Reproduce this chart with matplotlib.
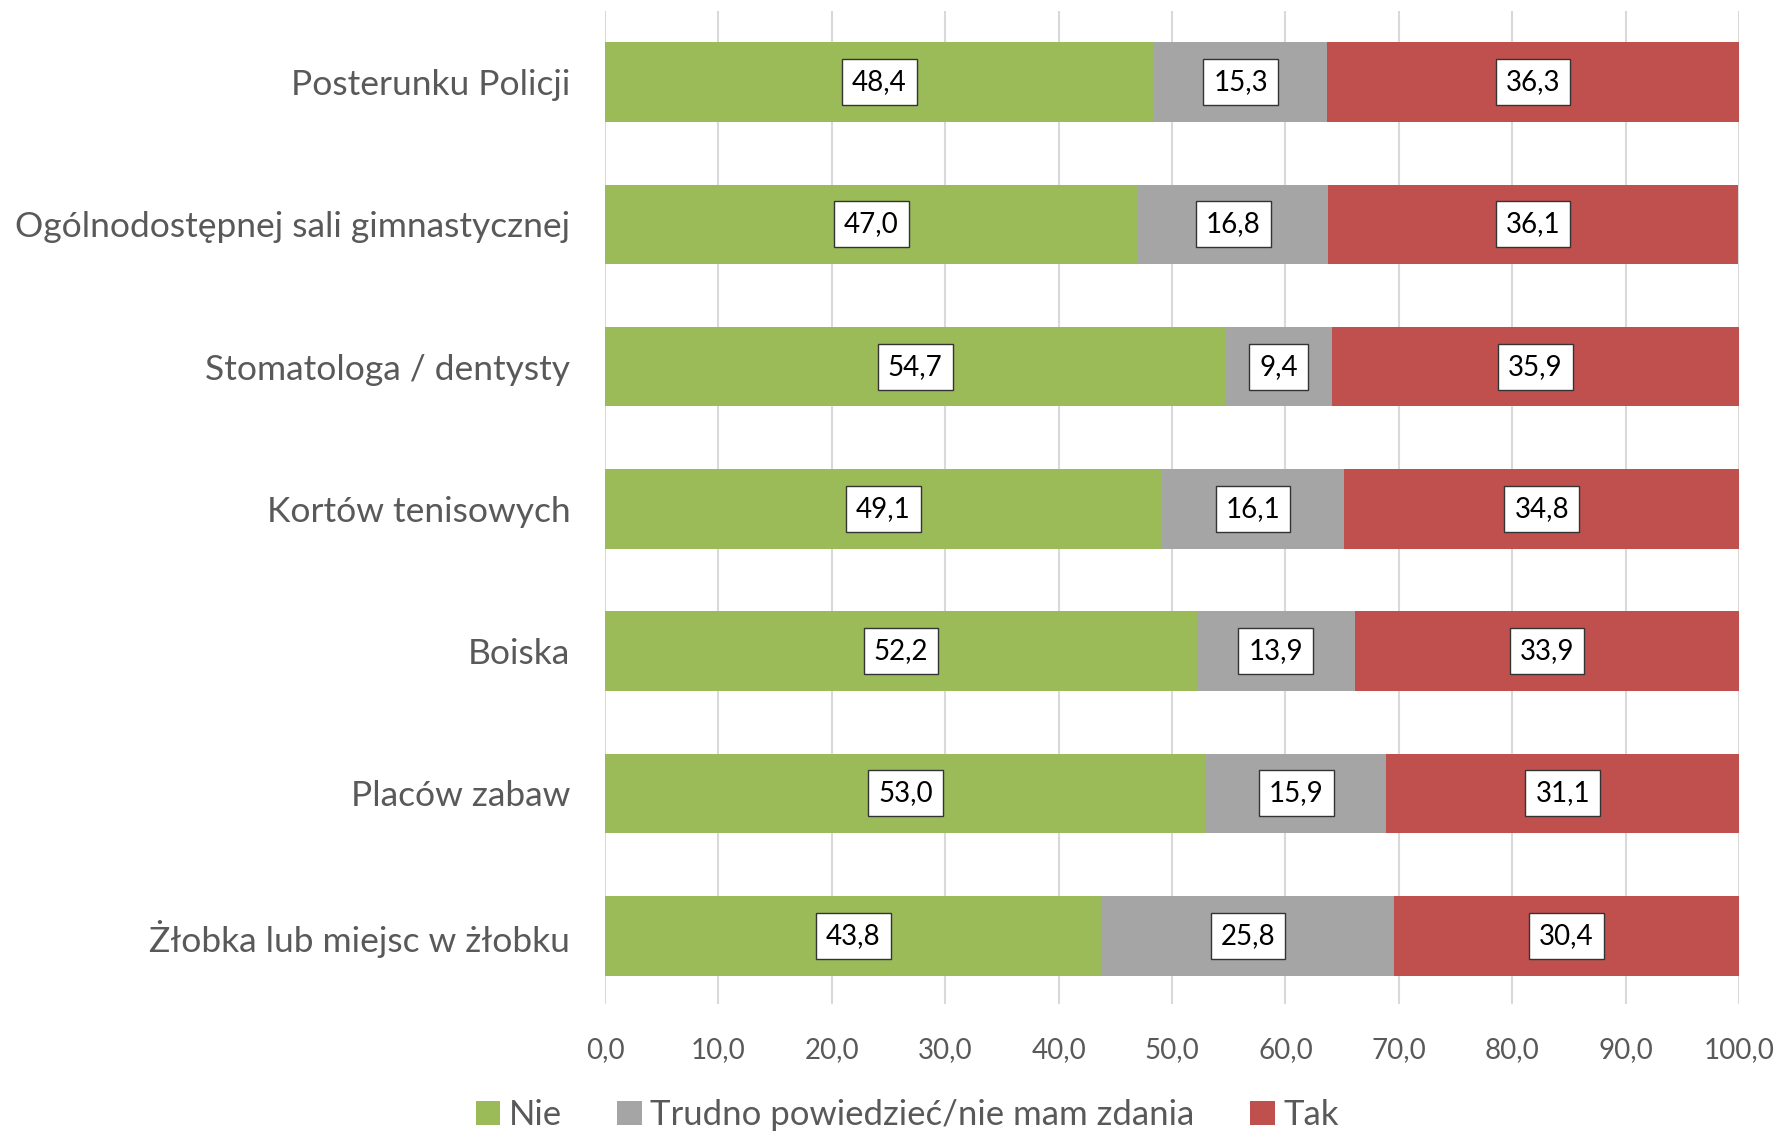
import numpy as np
import matplotlib.pyplot as plt

# data
categories = ["Posterunku Policji", "Ogólnodostępnej sali gimnastycznej",
              "Stomatologa / dentysty", "Kortów tenisowych", "Boiska",
              "Placów zabaw", "Żłobka lub miejsc w żłobku"]
nie = [48.4, 47.0, 54.7, 49.1, 52.2, 53.0, 43.8]
trudno = [15.3, 16.8, 9.4, 16.1, 13.9, 15.9, 25.8]
tak = [36.3, 36.1, 35.9, 34.8, 33.9, 31.1, 30.4]
series_names = ["Nie", "Trudno powiedzieć/nie mam zdania", "Tak"]
colors = ["#9BBB59", "#A5A5A5", "#C0504D"]

plt.rcParams['font.family'] = ['Lato', 'DejaVu Sans']

fig = plt.figure(figsize=(17.79, 11.32), dpi=100)
ax = fig.add_axes([605/1779, 1 - 1004/1132, (1739-605)/1779, (1004-11)/1132])

y = np.arange(len(categories))
left = np.zeros(len(categories))
for vals, name, col in zip([nie, trudno, tak], series_names, colors):
    vals = np.array(vals)
    ax.barh(y, vals, left=left, height=0.56, color=col, label=name, zorder=2)
    for yi, l, v in zip(y, left, vals):
        ax.text(l + v / 2, yi, f"{v:.1f}".replace(".", ","), ha="center", va="center",
                fontsize=20, color="black", zorder=3,
                bbox=dict(boxstyle="square,pad=0.36", fc="white", ec="#333333", lw=1))
    left += vals

ax.set_xlim(0, 100)
ax.set_ylim(len(categories) - 0.52, -0.5)
ax.set_xticks(np.arange(0, 101, 10))
ax.set_xticklabels([f"{t:.1f}".replace(".", ",") for t in np.arange(0, 101, 10)],
                   fontsize=20, color="#595959")
ax.set_yticks(y)
ax.set_yticklabels(categories, fontsize=25.5, color="#595959")
ax.tick_params(length=0)
ax.tick_params(axis="x", pad=24)
ax.tick_params(axis="y", pad=25)
ax.grid(axis="x", color="#D9D9D9", lw=1.5, zorder=0)
for s in ax.spines.values():
    s.set_visible(False)

fig.legend(loc="lower center", bbox_to_anchor=(0.51, -0.027), ncol=3, frameon=False,
           fontsize=25, labelcolor="#595959", handlelength=0.7, handleheight=0.7,
           handletextpad=0.25, columnspacing=1.6)

fig.savefig("out.png", dpi=100)
